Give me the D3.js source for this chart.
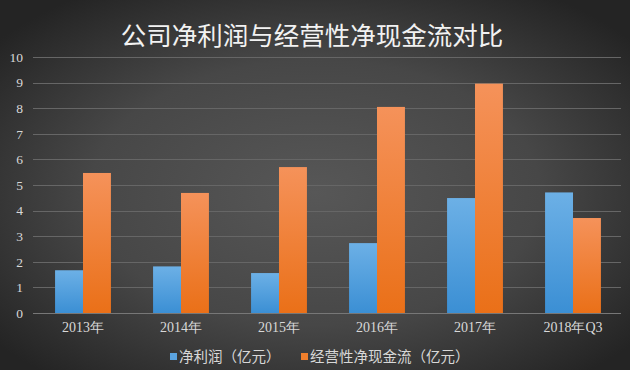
<!DOCTYPE html>
<html lang="zh">
<head>
  <meta charset="utf-8">
  <style>
    body { margin: 0; padding: 0; background: #333; }
    svg { display: block; }
  </style>
</head>
<body>
  <svg width="630" height="370"></svg>
  <script src="https://d3js.org/d3.v7.min.js"></script>
  <script>
    // data
    var categories = ["2013年", "2014年", "2015年", "2016年", "2017年", "2018年Q3"];
    var netProfit = [1.67, 1.82, 1.56, 2.73, 4.49, 4.71];
    var operatingCash = [5.47, 4.69, 5.70, 8.05, 8.96, 3.71];
    var seriesNames = ["净利润（亿元）", "经营性净现金流（亿元）"];
    var yTicks = [0, 1, 2, 3, 4, 5, 6, 7, 8, 9, 10];

    var svg = d3.select("svg"),
      width = +svg.attr("width"),
      height = +svg.attr("height");

    var cjk = "'Noto Sans CJK SC', 'Noto Sans', sans-serif";
    var numFont = "'Liberation Serif', 'DejaVu Serif', serif";

    var defs = svg.append("defs");

    var bg = defs.append("radialGradient")
      .attr("id", "bg")
      .attr("cx", "50%").attr("cy", "52%").attr("r", "65%");
    bg.append("stop").attr("offset", "0%").attr("stop-color", "#575757");
    bg.append("stop").attr("offset", "55%").attr("stop-color", "#474747");
    bg.append("stop").attr("offset", "100%").attr("stop-color", "#242424");

    function barGrad(id, top, bottom) {
      var g = defs.append("linearGradient")
        .attr("id", id)
        .attr("x1", 0).attr("y1", 0).attr("x2", 0).attr("y2", 1);
      g.append("stop").attr("offset", "0%").attr("stop-color", top);
      g.append("stop").attr("offset", "100%").attr("stop-color", bottom);
    }
    barGrad("gBlue", "#6cb0e6", "#3b8fd4");
    barGrad("gOrange", "#f5925a", "#ea7018");

    var colors = ["url(#gBlue)", "url(#gOrange)"];
    var legendColors = ["#5aa3e0", "#f07f2c"];

    svg.append("rect")
      .attr("width", width)
      .attr("height", height)
      .attr("fill", "url(#bg)");

    var x = d3.scaleBand()
      .domain(categories)
      .range([34, 622]);

    var inner = d3.scaleBand()
      .domain([0, 1])
      .range([x.bandwidth() * 0.215, x.bandwidth() * 0.785]);

    var y = d3.scaleLinear()
      .domain([0, 10])
      .range([313, 57]);

    // gridlines
    svg.append("g")
      .selectAll("line")
      .data(yTicks)
      .enter().append("line")
      .attr("x1", 33)
      .attr("x2", 621)
      .attr("y1", function(d) { return Math.round(y(d)) + 0.5; })
      .attr("y2", function(d) { return Math.round(y(d)) + 0.5; })
      .attr("stroke", function(d) { return d === 0 ? "#777" : "#666"; })
      .attr("stroke-width", 1);

    // y labels
    var yAxis = svg.append("g")
      .attr("transform", "translate(23,0)")
      .call(d3.axisLeft(y).tickValues(yTicks).tickSize(0).tickPadding(0));
    yAxis.select(".domain").remove();
    yAxis.selectAll("text")
      .attr("fill", "#d8d8d8")
      .style("font-family", numFont)
      .style("font-size", "13.5px");

    // bars
    var rows = categories.map(function(c, i) {
      return { cat: c, values: [netProfit[i], operatingCash[i]] };
    });

    svg.append("g")
      .selectAll("g")
      .data(rows)
      .enter().append("g")
      .attr("transform", function(d) { return "translate(" + x(d.cat) + ",0)"; })
      .selectAll("rect")
      .data(function(d) { return d.values; })
      .enter().append("rect")
      .attr("x", function(d, i) { return inner(i); })
      .attr("width", inner.bandwidth())
      .attr("y", function(d) { return y(d); })
      .attr("height", function(d) { return y(0) - y(d); })
      .attr("fill", function(d, i) { return colors[i]; });

    // x labels
    var xAxis = svg.append("g")
      .attr("transform", "translate(0,313)")
      .call(d3.axisBottom(x).tickSize(0).tickPadding(9));
    xAxis.select(".domain").remove();
    xAxis.selectAll("text")
      .attr("fill", "#d8d8d8")
      .style("font-family", numFont)
      .style("font-size", "14px");

    // title
    svg.append("text")
      .attr("x", 312)
      .attr("y", 45)
      .attr("text-anchor", "middle")
      .attr("fill", "#f2f2f2")
      .style("font-family", cjk)
      .style("font-size", "25.5px")
      .text("公司净利润与经营性净现金流对比");

    // legend
    var legendX = [170, 301];
    var legend = svg.append("g")
      .selectAll("g")
      .data(seriesNames)
      .enter().append("g")
      .attr("transform", function(d, i) { return "translate(" + legendX[i] + ",353)"; });

    legend.append("rect")
      .attr("width", 7)
      .attr("height", 7)
      .attr("fill", function(d, i) { return legendColors[i]; });

    legend.append("text")
      .attr("x", 9)
      .attr("y", 4)
      .attr("dy", "0.35em")
      .attr("fill", "#d8d8d8")
      .style("font-family", cjk)
      .style("font-size", "14.5px")
      .text(function(d) { return d; });
  </script>
</body>
</html>
